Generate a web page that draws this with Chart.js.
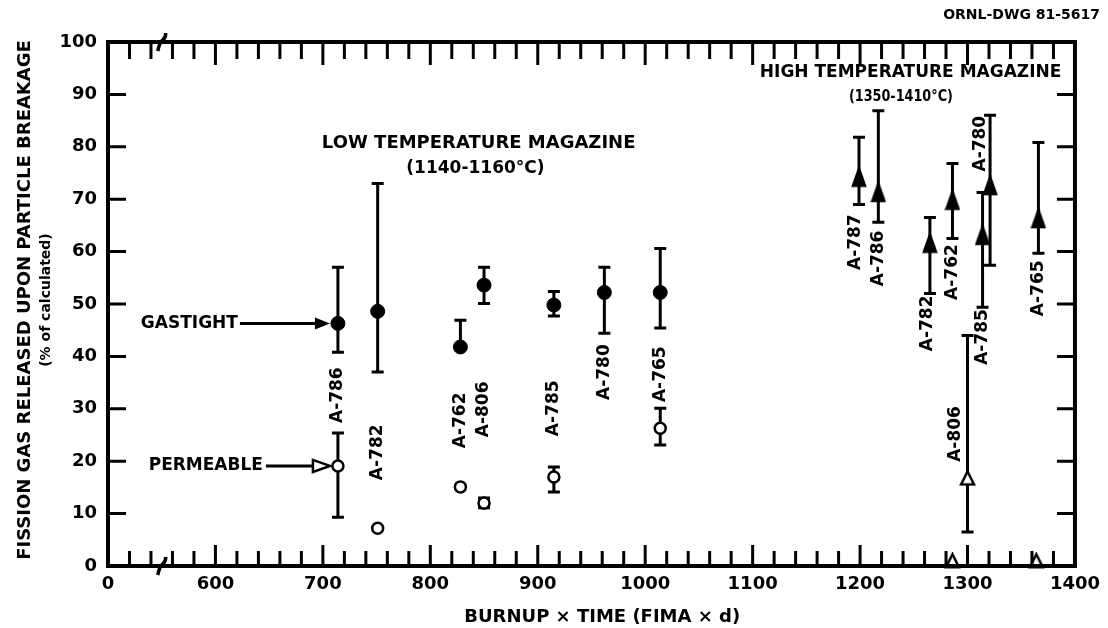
<!DOCTYPE html>
<html>
<head>
<meta charset="utf-8">
<script src="https://cdn.jsdelivr.net/npm/chart.js@4"></script>
<style>
  html, body { margin: 0; padding: 0; background: #fff; }
</style>
</head>
<body>
<canvas id="chart" width="1108" height="628"></canvas>
<script>
// Low temperature magazine (1140-1160 C)
const ltSamples = ['A-786', 'A-782', 'A-762', 'A-806', 'A-785', 'A-780', 'A-765'];
const ltBurnup = [714, 751, 828, 850, 915, 962, 1014];
const ltGastight = [46.3, 48.6, 41.8, 53.6, 49.8, 52.2, 52.2];
const ltGastightLo = [40.8, 37.0, 41.8, 50.1, 47.7, 44.4, 45.4];
const ltGastightHi = [57.0, 73.0, 46.9, 57.0, 52.4, 57.0, 60.6];
const ltPermeable = [19.1, 7.2, 15.1, 12.0, 17.0, null, 26.3];
const ltPermeableLo = [9.3, null, null, 11.1, 14.1, null, 23.1];
const ltPermeableHi = [25.4, null, null, 13.0, 18.9, null, 30.1];

// High temperature magazine (1350-1410 C)
const htSamples = ['A-787', 'A-786', 'A-782', 'A-762', 'A-785', 'A-780', 'A-765'];
const htBurnup = [1199, 1217, 1265, 1286, 1314, 1321, 1366];
const htGastight = [74.2, 71.3, 61.6, 69.8, 63.1, 72.6, 66.3];
const htGastightLo = [69.0, 65.6, 52.0, 62.5, 49.4, 57.4, 59.7];
const htGastightHi = [81.8, 86.9, 66.5, 76.8, 71.3, 86.0, 80.8];
const htPermSamples = ['A-806', '', ''];
const htPermBurnup = [1300, 1286, 1364];
const htPermeable = [16.8, 1, 1];
const htPermLo = [6.5, null, null];
const htPermHi = [44.0, null, null];

// axis ticks ("0" stands before the axis break)
const xTickValues = [500, 600, 700, 800, 900, 1000, 1100, 1200, 1300, 1400];
const xTickLabels = ['0', '600', '700', '800', '900', '1000', '1100', '1200', '1300', '1400'];

// where the sample names sit (y in % units, small x nudges in px)
const ltLabelY = [32.6, 21.7, 27.8, 29.9, 30.1, 37.0, 36.6];
const htLabelY = [61.8, 58.7, 46.3, 56.1, 43.7, 80.6, 53.0];
const htLabelDx = [-3, 0, -2, 0, 0, -9, 0];
const htPermLabelY = [25.2];
const htPermLabelDx = [-12];

const notes = [
  { text: 'LOW TEMPERATURE MAGAZINE', x: 845, y: 80.6, size: 18, width: 330 },
  { text: '(1140-1160°C)', x: 842, y: 75.9, size: 17, width: 139 },
  { text: 'HIGH TEMPERATURE MAGAZINE', x: 1247, y: 94.2, size: 17, width: 310 },
  { text: '(1350-1410°C)', x: 1238, y: 89.4, size: 15, width: 104 }
];

const FONT = "'DejaVu Sans', sans-serif";

function triangleImg(w, h, filled) {
  const c = document.createElement('canvas');
  c.width = w + 4; c.height = h + 4;
  const g = c.getContext('2d');
  g.beginPath();
  g.moveTo(c.width / 2, 2);
  g.lineTo(c.width - 2, c.height - 2);
  g.lineTo(2, c.height - 2);
  g.closePath();
  g.fillStyle = filled ? '#000' : '#fff';
  g.fill();
  g.lineWidth = 2.5;
  g.strokeStyle = '#000';
  g.stroke();
  return c;
}

function pts(xs, ys) {
  return xs.map((x, i) => ({ x: x, y: ys[i] })).filter(p => p.y !== null);
}

function errBar(ctx, xs, ys, x, lo, hi, v) {
  if (lo === null || hi === null) return;
  const px = xs.getPixelForValue(x);
  const top = ys.getPixelForValue(hi);
  const bot = ys.getPixelForValue(lo);
  ctx.beginPath();
  ctx.moveTo(px, top); ctx.lineTo(px, bot);
  ctx.moveTo(px - 6, top); ctx.lineTo(px + 6, top);
  if (lo !== v) { ctx.moveTo(px - 6, bot); ctx.lineTo(px + 6, bot); }
  ctx.stroke();
}

function vText(ctx, txt, x, y) {
  ctx.save();
  ctx.translate(x, y);
  ctx.rotate(-Math.PI / 2);
  ctx.fillText(txt, 0, 0);
  ctx.restore();
}

const overlay = {
  id: 'overlay',
  beforeDatasetsDraw(chart) {
    const ctx = chart.ctx, xs = chart.scales.x, ys = chart.scales.y;
    ctx.save();
    ctx.strokeStyle = '#000';
    ctx.lineWidth = 3;
    ltBurnup.forEach((x, i) => {
      errBar(ctx, xs, ys, x, ltGastightLo[i], ltGastightHi[i], ltGastight[i]);
      errBar(ctx, xs, ys, x, ltPermeableLo[i], ltPermeableHi[i], ltPermeable[i]);
    });
    htBurnup.forEach((x, i) => errBar(ctx, xs, ys, x, htGastightLo[i], htGastightHi[i], htGastight[i]));
    htPermBurnup.forEach((x, i) => errBar(ctx, xs, ys, x, htPermLo[i], htPermHi[i], htPermeable[i]));
    ctx.restore();
  },
  afterDraw(chart) {
    const ctx = chart.ctx, xs = chart.scales.x, ys = chart.scales.y;
    const a = chart.chartArea;
    ctx.save();
    ctx.strokeStyle = '#000';
    ctx.fillStyle = '#000';

    // frame
    ctx.lineWidth = 4;
    ctx.strokeRect(a.left, a.top, a.right - a.left, a.bottom - a.top);

    // ticks, all pointing inward
    ctx.lineWidth = 3;
    ctx.beginPath();
    for (let v = 520; v < 1400; v += 20) {
      const px = xs.getPixelForValue(v);
      const major = v % 100 === 0;
      ctx.moveTo(px, a.bottom); ctx.lineTo(px, a.bottom - (major ? 21 : 15));
      ctx.moveTo(px, a.top); ctx.lineTo(px, a.top + (major ? 23 : 17));
    }
    for (let v = 10; v < 100; v += 10) {
      const py = ys.getPixelForValue(v);
      ctx.moveTo(a.left, py); ctx.lineTo(a.left + 18, py);
      ctx.moveTo(a.right, py); ctx.lineTo(a.right - 18, py);
    }
    ctx.stroke();

    // axis break marks
    ctx.lineWidth = 3.5;
    const bx = xs.getPixelForValue(550);
    [a.bottom, a.top].forEach(y => {
      ctx.beginPath();
      ctx.moveTo(bx - 4, y + 9);
      ctx.quadraticCurveTo(bx - 2, y, bx + 1, y - 2);
      ctx.quadraticCurveTo(bx + 4, y - 4, bx + 4, y - 9);
      ctx.stroke();
    });

    // sample names
    ctx.font = 'bold 17px ' + FONT;
    ctx.textAlign = 'center';
    ctx.textBaseline = 'middle';
    ltSamples.forEach((s, i) => vText(ctx, s, xs.getPixelForValue(ltBurnup[i]), ys.getPixelForValue(ltLabelY[i])));
    htSamples.forEach((s, i) => vText(ctx, s, xs.getPixelForValue(htBurnup[i]) + htLabelDx[i], ys.getPixelForValue(htLabelY[i])));
    htPermLabelY.forEach((y, i) => vText(ctx, htPermSamples[i], xs.getPixelForValue(htPermBurnup[i]) + htPermLabelDx[i], ys.getPixelForValue(y)));

    // magazine captions
    notes.forEach(n => {
      ctx.font = 'bold ' + n.size + 'px ' + FONT;
      ctx.fillText(n.text, xs.getPixelForValue(n.x), ys.getPixelForValue(n.y), n.width);
    });

    // GASTIGHT / PERMEABLE pointers at the A-786 markers
    const gx = xs.getPixelForValue(ltBurnup[0]) - 8;
    const gy = ys.getPixelForValue(ltGastight[0]);
    const py = ys.getPixelForValue(ltPermeable[0]);
    ctx.font = 'bold 17px ' + FONT;
    ctx.textAlign = 'right';
    ctx.fillText('GASTIGHT', gx - 92, gy, 100);
    ctx.fillText('PERMEABLE', gx - 67, py, 128);
    ctx.lineWidth = 3;
    ctx.beginPath();
    ctx.moveTo(gx - 90, gy); ctx.lineTo(gx - 12, gy);
    ctx.moveTo(gx - 64, py); ctx.lineTo(gx - 17, py);
    ctx.stroke();
    ctx.beginPath();
    ctx.moveTo(gx, gy); ctx.lineTo(gx - 15, gy - 6); ctx.lineTo(gx - 15, gy + 6); ctx.closePath();
    ctx.fill();
    ctx.lineWidth = 2.5;
    ctx.beginPath();
    ctx.moveTo(gx, py); ctx.lineTo(gx - 17, py - 6); ctx.lineTo(gx - 17, py + 6); ctx.closePath();
    ctx.fillStyle = '#fff'; ctx.fill(); ctx.stroke();
    ctx.fillStyle = '#000';

    // axis titles
    ctx.textAlign = 'center';
    ctx.font = 'bold 18px ' + FONT;
    ctx.fillText('BURNUP × TIME (FIMA × d)', xs.getPixelForValue(960), 617, 292);
    const cy = (a.top + a.bottom) / 2 - 4;
    ctx.font = 'bold 18px ' + FONT;
    vText(ctx, 'FISSION GAS RELEASED UPON PARTICLE BREAKAGE', 25, cy);
    ctx.font = 'bold 14px ' + FONT;
    vText(ctx, '(% of calculated)', 46, cy);

    ctx.textAlign = 'right';
    ctx.font = 'bold 14px ' + FONT;
    ctx.fillText('ORNL-DWG 81-5617', 1100, 15, 160);
    ctx.restore();
  }
};

Chart.defaults.font.family = FONT;
Chart.defaults.font.weight = 'bold';
Chart.defaults.color = '#000';

new Chart(document.getElementById('chart'), {
  type: 'scatter',
  data: {
    datasets: [
      {
        label: 'Gastight (low T)',
        data: pts(ltBurnup, ltGastight),
        pointStyle: 'circle', pointRadius: 7,
        backgroundColor: '#000', borderColor: '#000', borderWidth: 1
      },
      {
        label: 'Permeable (low T)',
        data: pts(ltBurnup, ltPermeable),
        pointStyle: 'circle', pointRadius: 5.5,
        backgroundColor: '#fff', borderColor: '#000', borderWidth: 2.5
      },
      {
        label: 'Gastight (high T)',
        data: pts(htBurnup, htGastight),
        pointStyle: triangleImg(12, 17, true), pointRadius: 8
      },
      {
        label: 'Permeable (high T)',
        data: pts(htPermBurnup, htPermeable),
        pointStyle: triangleImg(13, 13, false), pointRadius: 8
      }
    ]
  },
  options: {
    responsive: false,
    devicePixelRatio: 1,
    animation: false,
    clip: false,
    layout: { padding: { top: 42, right: 27, left: 0, bottom: 0 } },
    plugins: { legend: { display: false }, tooltip: { enabled: false } },
    scales: {
      x: {
        type: 'linear', min: 500, max: 1400,
        afterBuildTicks: s => { s.ticks = xTickValues.map(v => ({ value: v })); },
        afterFit: s => { s.height = 62; },
        ticks: {
          autoSkip: false, maxRotation: 0, padding: 8,
          font: { size: 18, weight: 'bold' },
          callback: v => xTickLabels[xTickValues.indexOf(v)]
        },
        grid: { display: false, drawTicks: false },
        border: { display: false }
      },
      y: {
        min: 0, max: 100,
        afterFit: s => { s.width = 108; },
        ticks: { stepSize: 10, padding: 11, font: { size: 18, weight: 'bold' } },
        grid: { display: false, drawTicks: false },
        border: { display: false }
      }
    }
  },
  plugins: [overlay]
});
</script>
</body>
</html>
